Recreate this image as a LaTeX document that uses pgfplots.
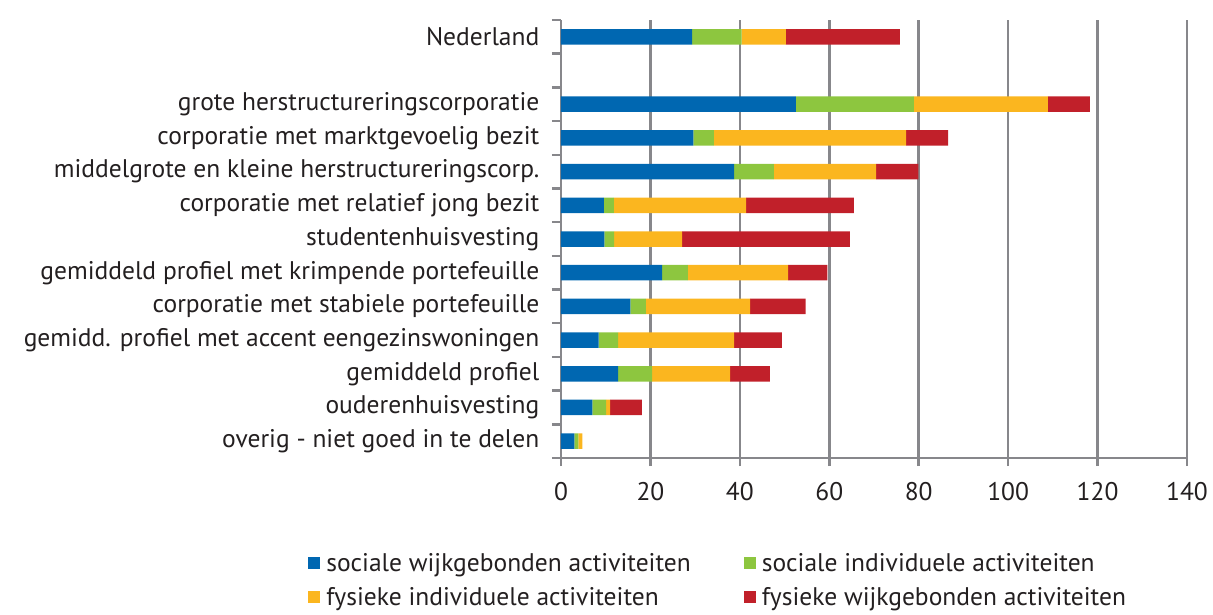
\documentclass[border=0pt]{standalone}
\usepackage{fontspec}
\setmainfont{PT Sans}
\usepackage{pgfplots}
\pgfplotsset{compat=1.18}
\usepackage{pgfplotstable}

\definecolor{cBlue}{HTML}{0067B1}
\definecolor{cGreen}{HTML}{8DC63F}
\definecolor{cYellow}{HTML}{FBB61F}
\definecolor{cRed}{HTML}{C1202A}
\definecolor{cGrid}{HTML}{87878B}
\definecolor{cText}{HTML}{231F20}

\pgfplotstableread{
y a b c d
0 3.0 0.9 0.9 0.0
1 7.0 3.1 0.9 7.1
2 12.8 7.6 17.4 8.9
3 8.4 4.4 25.9 10.7
4 15.5 3.5 23.3 12.4
5 22.6 5.8 22.4 8.8
6 9.7 2.2 15.2 37.5
7 9.6 2.2 29.6 24.1
8 38.7 8.9 22.9 9.4
9 29.6 4.6 43.0 9.4
10 52.5 26.4 30.0 9.4
12 29.3 11.1 9.9 25.5
}\data

\begin{document}
\fontsize{25.5}{30}\selectfont
\begin{tikzpicture}
\useasboundingbox (0,0) rectangle (1213pt,614pt);
\begin{axis}[
  at={(561pt,156pt)}, anchor=south west,
  scale only axis, width=626pt, height=438pt,
  xbar stacked, bar width=15.5pt,
  xmin=0, xmax=140, ymin=-0.5, ymax=12.5,
  xtick={0,20,...,140},
  ytick={0,...,12},
  yticklabels={overig - niet goed in te delen, ouderenhuisvesting, gemiddeld profiel, gemidd. profiel met accent eengezinswoningen, corporatie met stabiele portefeuille, gemiddeld profiel met krimpende portefeuille, studentenhuisvesting, corporatie met relatief jong bezit, middelgrote en kleine herstructureringscorp., corporatie met marktgevoelig bezit, grote herstructureringscorporatie, {}, Nederland},
  minor ytick={-0.5,0.5,...,12.5},
  tick align=outside,
  major tick length=8pt, minor tick length=9pt,
  major y tick style={draw=none},
  minor y tick style={cGrid, line width=2.5pt},
  major x tick style={cGrid, line width=2.5pt},
  axis x line*=bottom, axis y line*=left,
  axis line style={cGrid, line width=2.5pt},
  xmajorgrids, major grid style={cGrid, line width=2.5pt},
  /pgf/number format/assume math mode=true,
  tick label style={font=\fontsize{25.5}{30}\selectfont, text=cText},
  xticklabel style={yshift=-8pt},
  yticklabel style={xshift=-5pt},
  legend columns=2,
  legend style={draw=none, fill=none, font=\fontsize{25.5}{30}\selectfont, text=cText,
    at={(0.251,-0.208)}, anchor=north,
    /tikz/every even column/.append style={column sep=51pt},
    row sep=8pt},
  legend cell align=left,
  legend image code/.code={\fill[#1] (0pt,-5pt) rectangle (12pt,7pt); \path (16pt,0pt);},
]
\addplot[fill=cBlue, draw=none] table[x=a, y=y] {\data};
\addplot[fill=cGreen, draw=none] table[x=b, y=y] {\data};
\addplot[fill=cYellow, draw=none] table[x=c, y=y] {\data};
\addplot[fill=cRed, draw=none] table[x=d, y=y] {\data};
\legend{sociale wijkgebonden activiteiten, sociale individuele activiteiten, fysieke individuele activiteiten, fysieke wijkgebonden activiteiten}
\end{axis}
\end{tikzpicture}
\end{document}
